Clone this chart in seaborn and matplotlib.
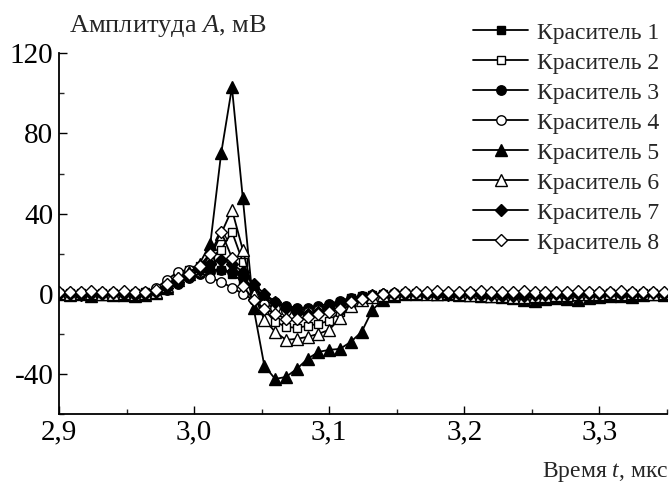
import numpy as np
import pandas as pd
import matplotlib
matplotlib.use("Agg")
import matplotlib.pyplot as plt
from matplotlib.ticker import FixedLocator, FixedFormatter, MultipleLocator
import seaborn as sns

# ---- data ----
t_start = 2.9
t_step = 0.008
n_points = 57
time_us = [round(t_start + t_step * k, 3) for k in range(n_points)]

dye1 = [0, 0.5, -0.5, 0, 0.5, 0, -0.5, 0, 0.5, 1,
        3, 6, 9, 11, 12, 12, 10, 6, 2, -2, -5, -7, -8, -8, -7, -6, -4, -2, -1, -0.5, 0, 0,
        0.5, 0, 0, -0.5, 0, 0, 0.5, 0, -0.5, -1, -0.5, -1, -1, -0.5, -0.5, 0, -0.5, 0, 0, 0.5, 0, 0, 0.5, 0, 0]
dye2 = [0.5, 0, 0.5, 0, 0, 0.5, 0, 0.5, 1, 2,
        5, 9, 12, 14, 18, 22, 31, 16, 2, -8, -14, -16.5, -17, -16, -15, -13.5, -9, -5, -2, -1, -0.5, 0,
        0, 0.5, 0, 0, -0.5, 0, 0, -0.5, -0.5, -1, -1, -1.5, -1, -1, -0.5, -0.5, 0, 0, 0, 0.5, 0, 0.5, 0, 0.5, 0]
dye3 = [0, 0, 0.5, 0, -0.5, 0, 0, 0.5, 0, 1,
        2, 5, 8, 10, 11, 12, 11, 8, 3, -1, -4, -6, -7, -7, -6, -5, -3.5, -2, -1, -0.5, 0, 0.5,
        0.5, 0, 0, 0.5, 0, -0.5, 0, 0, -0.5, -0.5, -1, -0.5, -1, -0.5, 0, -0.5, 0, 0, 0.5, 0, 0, 0.5, 0.5, 0, 0]
dye4 = [0.5, 0.5, 0, 0.5, 0, 0.5, 0.5, 0, 1, 3,
        7, 11, 12, 11, 8, 6, 3, 0, -3, -5, -7, -8.5, -9, -9, -8, -7, -5, -3, -1.5, -0.5, 0, 0.5,
        0.5, 0.5, 0, 0.5, 0, 0, 0.5, 0, 0, -0.5, 0, -0.5, -0.5, 0, 0, 0.5, 0, 0.5, 0.5, 0, 0.5, 0.5, 0, 0.5, 0.5]
dye5 = [0, -0.5, 0, -1, 0, -0.5, -0.5, -1, -0.5, 0.5,
        3, 7, 10, 15, 25, 70, 103, 48, -7, -36, -42.5, -41.5, -37.5, -32.5, -29, -28, -27.5, -24, -19, -8, -3, -1,
        0, 0, 0.5, 0, 0, -0.5, -0.5, -1, -1, -1.5, -2, -3, -3.5, -2.5, -2, -2.5, -3, -2, -1.5, -1, -1, -1.5, -0.5, 0, -0.5]
dye6 = [0.5, 0, 0.5, 0.5, 0, 0, 0.5, 0, 0.5, 1,
        4, 8, 11, 13, 18, 30, 42, 22, 0, -13, -19, -23, -22.5, -21.5, -20, -18, -12, -6, -3, -1.5, -0.5, 0,
        0.5, 0.5, 0, 0, 0.5, 0, -0.5, -0.5, -1, -1, -1.5, -1.5, -1, -1, -0.5, -0.5, 0, 0, 0, 0.5, 0, 0.5, 0.5, 0, 0.5]
dye7 = [0, 0, -0.5, 0, 0, 0.5, 0, -0.5, 0, 1,
        3, 6, 9, 12, 15, 17, 15, 11, 5, 0, -4, -7, -9, -10, -9, -7, -5, -3, -1.5, -0.5, 0, 0,
        0, 0.5, 0, 0, -0.5, 0, 0, -0.5, -0.5, -1, -1, -1, -0.5, -0.5, 0, -0.5, 0, 0, 0, 0.5, 0, 0, 0, 0.5, 0]
dye8 = [1, 1, 1, 1.5, 1, 1, 1.5, 1, 1, 2,
        5, 8, 10, 14, 20, 31, 18, 4, -3, -7.5, -10, -12.5, -12.5, -11.5, -10, -9, -7.5, -4, -2.5, -1, 0, 0.5,
        1, 1, 1, 1.5, 1, 1, 1, 1.5, 1, 1, 1, 1.5, 1, 1, 1, 1, 1.5, 1, 1, 1, 1.5, 1, 1, 1, 1]

series_names = ["Краситель 1", "Краситель 2", "Краситель 3", "Краситель 4",
                "Краситель 5", "Краситель 6", "Краситель 7", "Краситель 8"]
series_values = [dye1, dye2, dye3, dye4, dye5, dye6, dye7, dye8]

x_ticks = [2.9, 3.0, 3.1, 3.2, 3.3]
x_tick_labels = ["2,9", "3,0", "3,1", "3,2", "3,3"]
y_ticks = [-40, 0, 40, 80, 120]
y_tick_labels = ["-40", "0", "40", "80", "120"]

# ---- style ----
sns.set_style("ticks")
plt.rcParams["font.family"] = ["Liberation Serif", "DejaVu Serif"]
plt.rcParams["mathtext.fontset"] = "custom"
plt.rcParams["mathtext.it"] = "Liberation Serif:italic"
plt.rcParams["mathtext.rm"] = "Liberation Serif"
plt.rcParams["axes.unicode_minus"] = False

markers = ["s", "s", "o", "o", "^", "^", "D", "D"]
filled = [True, False, True, False, True, False, True, False]
msizes = [6.3, 6.3, 6.8, 6.8, 8, 8, 6.3, 6.3]

fig = plt.figure(figsize=(6.69, 4.83), dpi=100)
ax = fig.add_axes([59 / 669, 1 - 414 / 483, (667 - 59) / 669, (414 - 53.3) / 483])

for name, vals, m, f, ms in zip(series_names, series_values, markers, filled, msizes):
    sns.lineplot(x=time_us, y=vals, ax=ax, color="black", linewidth=1.3,
                 marker=m, markersize=ms, markerfacecolor="black" if f else "white",
                 markeredgecolor="black", markeredgewidth=1.0, label=name, sort=True)

ax.set_xlim(2.9, 3.35)
ax.set_ylim(-60, 120)
ax.xaxis.set_major_locator(FixedLocator(x_ticks))
ax.xaxis.set_major_formatter(FixedFormatter(x_tick_labels))
ax.xaxis.set_minor_locator(MultipleLocator(0.05))
ax.yaxis.set_major_locator(FixedLocator(y_ticks))
ax.yaxis.set_major_formatter(FixedFormatter(y_tick_labels))
ax.yaxis.set_minor_locator(MultipleLocator(20))
ax.tick_params(which="major", direction="in", length=6, width=1.0, labelsize=21, pad=4, colors="black")
ax.tick_params(which="minor", direction="in", length=3.5, width=1.0)
for s in ["top", "right"]:
    ax.spines[s].set_visible(False)
for s in ["left", "bottom"]:
    ax.spines[s].set_linewidth(1.3)
    ax.spines[s].set_color("black")
ax.set_xlabel("")
ax.set_ylabel("")

leg = ax.legend(loc="upper left", bbox_to_anchor=(473 / 669, 1 - 22 / 483),
                bbox_transform=fig.transFigure, frameon=False, fontsize=17,
                borderpad=0, borderaxespad=0, handlelength=2.35, handletextpad=0.35,
                labelspacing=0.36)

fig.text(69 / 669, 1 - 32 / 483, "Амплитуда $A$, мВ", fontsize=19, ha="left", va="baseline")
fig.text(668 / 669, 1 - 477 / 483, "Время $t$, мкс", fontsize=17, ha="right", va="baseline")

fig.savefig("out.png", dpi=100)
